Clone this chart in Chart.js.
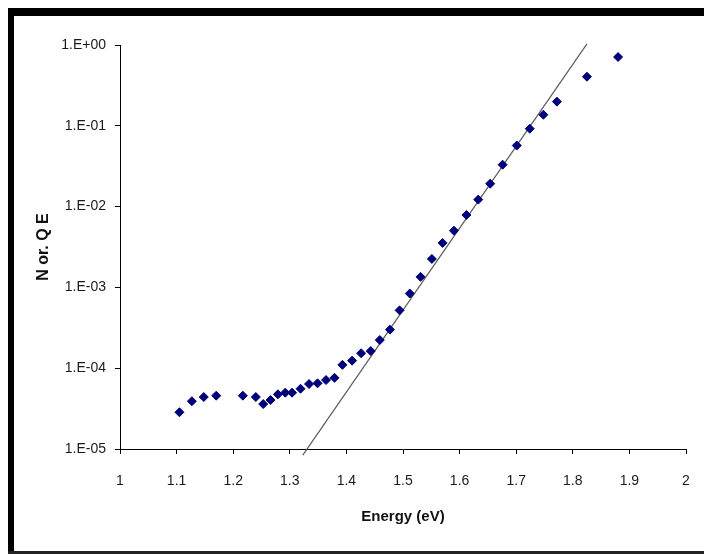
<!DOCTYPE html>
<html>
<head>
<meta charset="utf-8">
<script src="https://cdn.jsdelivr.net/npm/chart.js@4/dist/chart.umd.min.js"></script>
<style>
  html, body { margin: 0; padding: 0; background: #fff; }
  #wrap { position: relative; width: 704px; height: 554px; overflow: hidden; }
  #chart { position: absolute; left: 0; top: 0; }
  .edge { position: absolute; background: #000; pointer-events: none; }
</style>
</head>
<body>
<div id="wrap">
  <canvas id="chart" width="704" height="554"></canvas>
  <div class="edge" style="left:8px; top:8px; width:696px; height:8px;"></div>
  <div class="edge" style="left:8px; top:8px; width:6px; height:546px;"></div>
  <div class="edge" style="left:8px; top:551px; width:696px; height:3px; background:#222;"></div>
</div>
<script>
// Photon energy (eV) and normalised quantum efficiency
const energy = [1.105, 1.127, 1.148, 1.170, 1.217, 1.240, 1.253, 1.266, 1.279,
  1.292, 1.304, 1.319, 1.334, 1.349, 1.364, 1.379, 1.393, 1.410, 1.426,
  1.443, 1.459, 1.477, 1.494, 1.512, 1.531, 1.551, 1.570, 1.590, 1.612,
  1.633, 1.654, 1.676, 1.701, 1.724, 1.748, 1.772, 1.825, 1.880];
const norQE = [2.85e-5, 3.9e-5, 4.4e-5, 4.57e-5, 4.57e-5, 4.4e-5, 3.6e-5, 4.04e-5, 4.75e-5,
  4.98e-5, 4.98e-5, 5.57e-5, 6.37e-5, 6.5e-5, 7.14e-5, 7.6e-5, 1.1e-4, 1.24e-4, 1.53e-4,
  1.63e-4, 2.23e-4, 3.0e-4, 5.2e-4, 8.4e-4, 1.35e-3, 2.25e-3, 3.55e-3, 5.04e-3, 7.87e-3,
  1.22e-2, 1.92e-2, 3.3e-2, 5.7e-2, 9.2e-2, 0.137, 0.199, 0.405, 0.71];

// Straight exponential edge fitted through the absorption tail
const edgeEnergy = [1.323, 1.825];
const edgeQE = [8.4e-6, 1.03];

// Axis tick labels
const xTickLabels = ['1', '1.1', '1.2', '1.3', '1.4', '1.5', '1.6', '1.7', '1.8', '1.9', '2'];
const yTickLabels = ['1.E-05', '1.E-04', '1.E-03', '1.E-02', '1.E-01', '1.E+00'];

const xTickValues = xTickLabels.map(Number);
const yTickValues = yTickLabels.map(s => Number(s.replace('.E', 'E')));

const fontFamily = "'Liberation Sans', Arial, sans-serif";
const tickFont = { family: fontFamily, size: 14 };
const titleFont = { family: fontFamily, size: 15, weight: 'bold' };

new Chart(document.getElementById('chart'), {
  type: 'scatter',
  data: {
    datasets: [
      {
        label: 'Nor. QE',
        data: energy.map((e, i) => ({ x: e, y: norQE[i] })),
        pointStyle: 'rectRot',
        pointRadius: 4.5,
        backgroundColor: '#00007a',
        borderColor: '#00007a',
        borderWidth: 1,
        order: 1
      },
      {
        type: 'line',
        label: 'edge',
        data: edgeEnergy.map((e, i) => ({ x: e, y: edgeQE[i] })),
        borderColor: '#5c5c5c',
        borderWidth: 1.2,
        pointRadius: 0,
        showLine: true,
        fill: false,
        clip: false,
        order: 2
      }
    ]
  },
  options: {
    responsive: false,
    animation: false,
    devicePixelRatio: 1,
    layout: { padding: { top: 45, right: 18, bottom: 0, left: 0 } },
    plugins: { legend: { display: false }, tooltip: { enabled: false } },
    scales: {
      x: {
        type: 'linear',
        min: 1,
        max: 2,
        afterFit: s => { s.height = 105; },
        afterBuildTicks: s => { s.ticks = xTickValues.map(v => ({ value: v })); },
        ticks: {
          color: '#1a1a1a',
          font: { family: fontFamily, size: 14, lineHeight: 2 },
          padding: 13,
          maxRotation: 0,
          autoSkip: false,
          callback: (v, i) => xTickLabels[i]
        },
        grid: { drawOnChartArea: false, drawTicks: true, tickLength: 5, color: '#000' },
        border: { color: '#000', width: 1 },
        title: {
          display: true,
          text: 'Energy (eV)',
          color: '#111',
          font: titleFont,
          padding: { top: 0, bottom: 28 }
        }
      },
      y: {
        type: 'logarithmic',
        min: 1e-5,
        max: 1,
        afterFit: s => { s.width = 120; },
        afterBuildTicks: s => { s.ticks = yTickValues.map(v => ({ value: v })); },
        ticks: {
          color: '#1a1a1a',
          font: tickFont,
          padding: 9,
          autoSkip: false,
          callback: (v, i) => yTickLabels[i]
        },
        grid: { drawOnChartArea: false, drawTicks: true, tickLength: 5, color: '#000' },
        border: { color: '#000', width: 1 },
        title: {
          display: true,
          text: 'N or. Q E',
          color: '#111',
          font: { family: fontFamily, size: 16, weight: 'bold' },
          padding: { top: 34, bottom: 0 }
        }
      }
    }
  }
});
</script>
</body>
</html>
